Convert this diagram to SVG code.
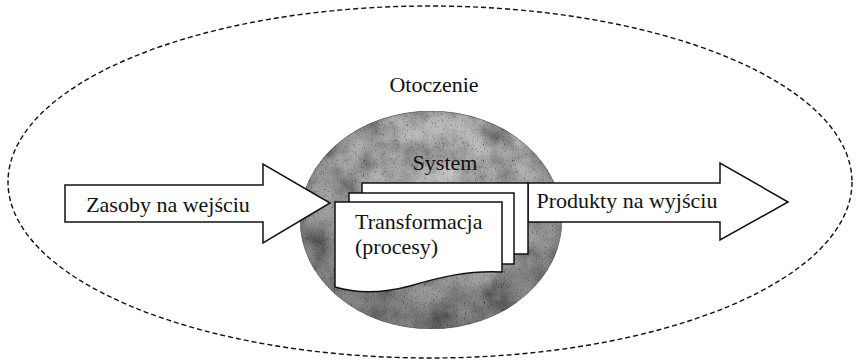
<svg xmlns="http://www.w3.org/2000/svg" width="856" height="364" viewBox="0 0 856 364">
<defs>
<style>
text{font-family:"Liberation Serif","Times New Roman","DejaVu Serif",serif;font-size:22px;fill:#111}
.sh{fill:#fff;stroke:#111;stroke-width:1.5;stroke-linejoin:miter}
</style>
<radialGradient id="rg" cx="0.55" cy="0.3" r="0.75">
<stop offset="0" stop-color="#cfcfcf"/>
<stop offset="0.6" stop-color="#a4a4a4"/>
<stop offset="1" stop-color="#7a7a7a"/>
</radialGradient>
<filter id="grain" x="0" y="0" width="100%" height="100%">
<feTurbulence type="fractalNoise" baseFrequency="0.035" numOctaves="3" seed="4" result="coarse"/>
<feColorMatrix in="coarse" type="matrix" values="0.33 0.33 0.33 0 0 0.33 0.33 0.33 0 0 0.33 0.33 0.33 0 0 0 0 0 0 1" result="cg"/>
<feComponentTransfer in="cg" result="cc">
<feFuncR type="linear" slope="2.2" intercept="-0.35"/>
<feFuncG type="linear" slope="2.2" intercept="-0.35"/>
<feFuncB type="linear" slope="2.2" intercept="-0.35"/>
</feComponentTransfer>
<feTurbulence type="fractalNoise" baseFrequency="0.9 0.45" numOctaves="2" seed="7" result="t"/>
<feColorMatrix in="t" type="matrix" values="0.33 0.33 0.33 0 0 0.33 0.33 0.33 0 0 0.33 0.33 0.33 0 0 0 0 0 0 1" result="g"/>
<feComponentTransfer in="g" result="c">
<feFuncR type="linear" slope="3.4" intercept="-0.6"/>
<feFuncG type="linear" slope="3.4" intercept="-0.6"/>
<feFuncB type="linear" slope="3.4" intercept="-0.6"/>
</feComponentTransfer>
<feBlend in="SourceGraphic" in2="cc" mode="multiply" result="b1"/>
<feBlend in="b1" in2="c" mode="multiply" result="b"/>
<feComposite in="b" in2="SourceGraphic" operator="in"/>
</filter>
</defs>
<rect width="856" height="364" fill="#fff"/>
<g id="otoczenie">
<ellipse cx="430" cy="182" rx="422" ry="176" fill="none" stroke="#111" stroke-width="1.4" stroke-dasharray="5 3"/>
<text x="434" y="92" text-anchor="middle">Otoczenie</text>
</g>
<g id="system">
<ellipse cx="431" cy="220" rx="131" ry="109" fill="url(#rg)" stroke="#555" stroke-width="0.8" filter="url(#grain)"/>
<text x="445" y="170" text-anchor="middle">System</text>
</g>
<g id="connectors">
<polygon id="wejscie" class="sh" points="65,185 263,185 263,164 330,203 263,243 263,222 65,222"/>
<polygon id="wyjscie" class="sh" points="528,183 720,183 720,163 788,202 720,240 720,222 528,222"/>
</g>
<g id="zasoby">
<text x="168" y="212" text-anchor="middle">Zasoby na wejściu</text>
</g>
<g id="produkty">
<text x="627" y="208" text-anchor="middle">Produkty na wyjściu</text>
</g>
<g id="transformacja">
<rect class="sh" x="362" y="183" width="166" height="71"/>
<rect class="sh" x="349" y="193" width="165" height="71"/>
<path class="sh" d="M335,202 H502 V272 C470,270 440,277 410,286 C380,294 355,293 335,287 Z"/>
<text x="355" y="229">Transformacja</text>
<text x="355" y="254">(procesy)</text>
</g>
</svg>
